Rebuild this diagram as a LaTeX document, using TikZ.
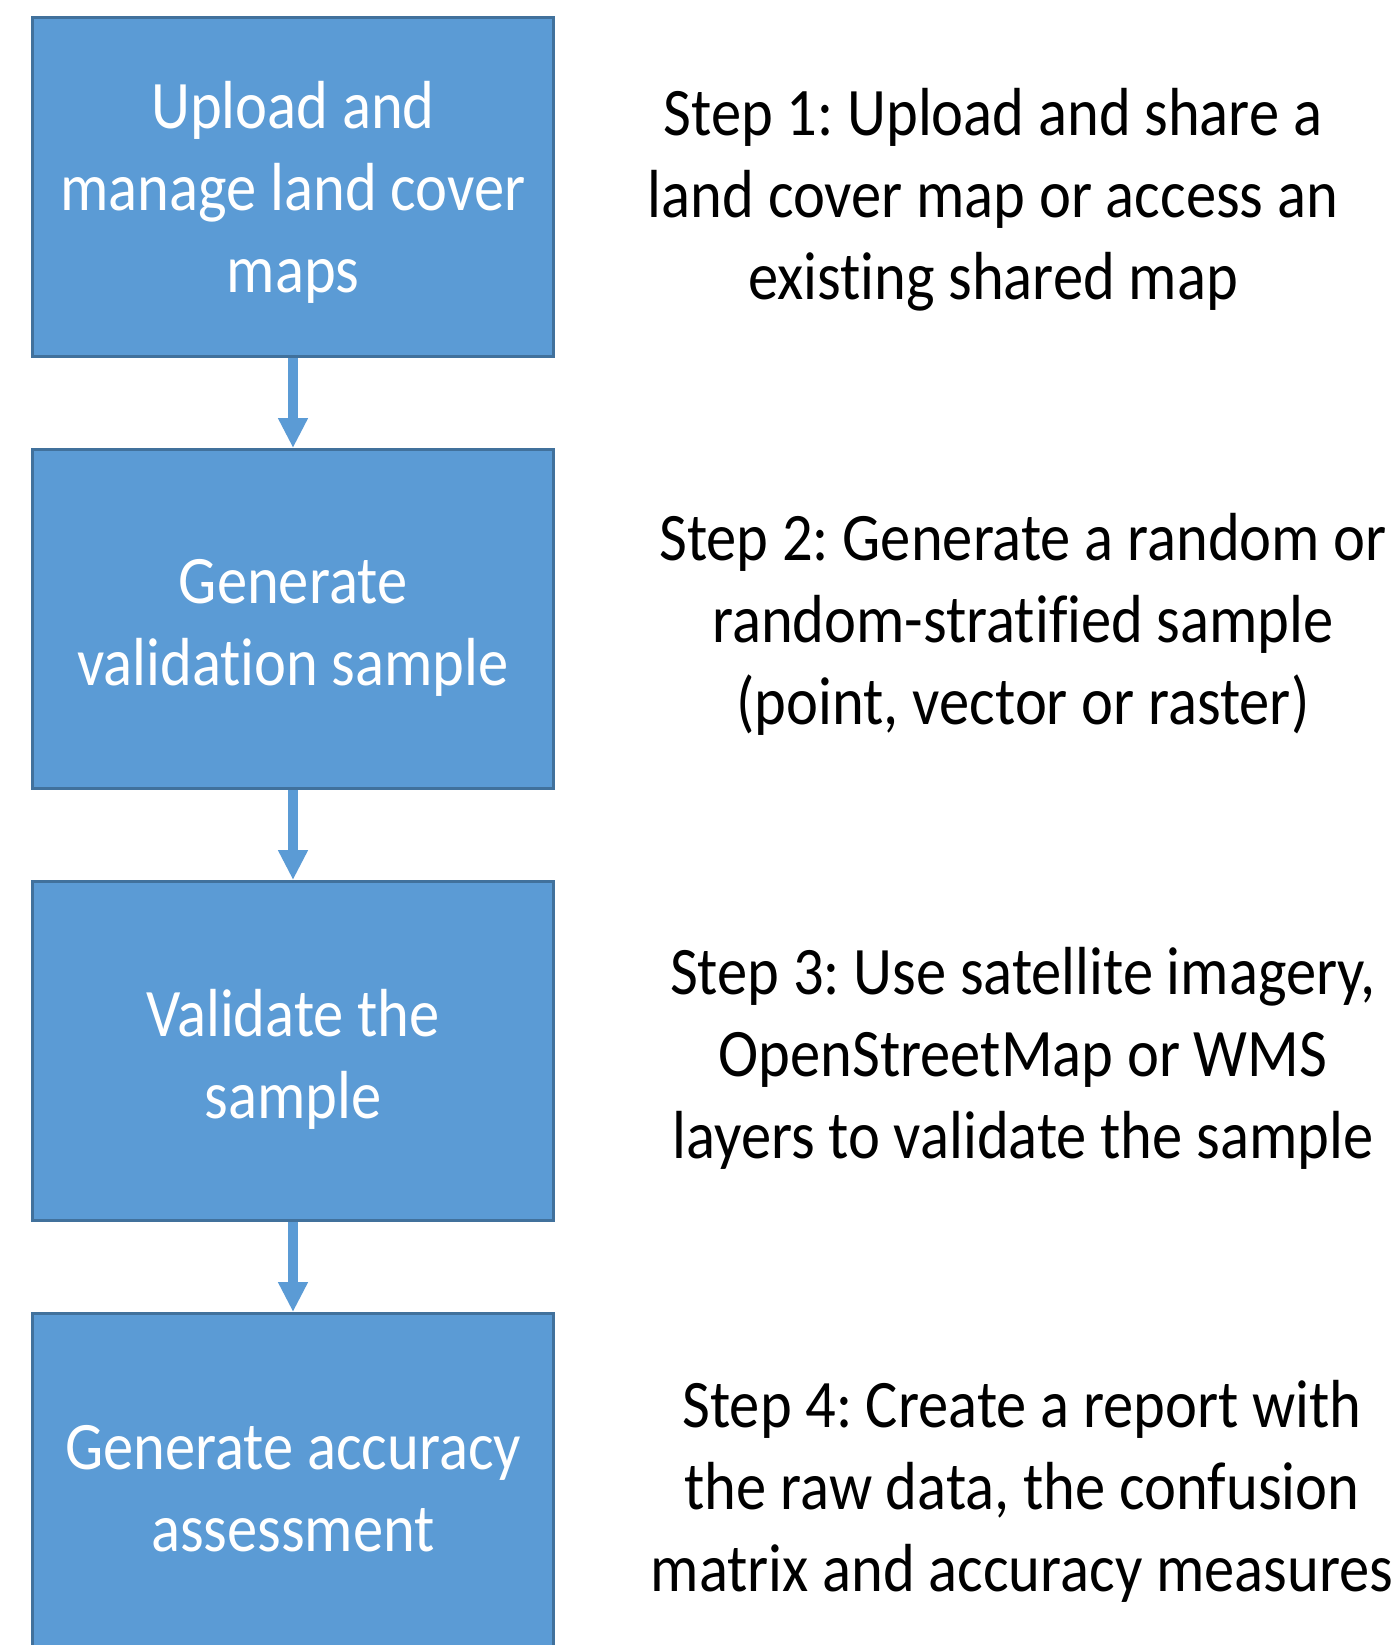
\documentclass[tikz,border=0pt]{standalone}
\usepackage{fontspec}
\setmainfont{Carlito}[FakeStretch=0.89,Ligatures=CommonOff]
\usetikzlibrary{arrows.meta}
\definecolor{boxfill}{HTML}{5B9BD5}
\definecolor{boxline}{HTML}{41719C}
\frenchspacing
\begin{document}
\begin{tikzpicture}[x=0.5pt,y=-0.5pt,
  flowbox/.style={draw=boxline, fill=boxfill, line width=1.5pt,
    minimum width=260.5pt, minimum height=169.5pt, inner sep=0pt},
  boxtext/.style={text=white, align=center,
    font=\fontsize{34}{41}\selectfont\frenchspacing, inner sep=0pt},
  steptext/.style={text=black, align=center,
    font=\fontsize{34}{41}\selectfont\frenchspacing, inner sep=0pt},
  flowarrow/.style={draw=boxfill, line width=5pt,
    -{Triangle[length=15pt,width=14pt]}}]
\useasboundingbox (0,0) rectangle (1400,1645);
\clip (0,0) rectangle (1400,1645);
\fill[white] (0,0) rectangle (1400,1645);
\node[flowbox] (b1) at (293,187) {};
\node[flowbox] (b2) at (293,619) {};
\node[flowbox] (b3) at (293,1051) {};
\node[flowbox] (b4) at (293,1483) {};
\node[boxtext] (t1) at (293,193.6) {\strut Upload and\\\strut manage land cover\\\strut maps};
\node[boxtext] (t2) at (293,627.6) {\strut Generate\\\strut validation sample};
\node[boxtext] (t3) at (293,1061) {\strut Validate the\\\strut sample};
\node[boxtext] (t4) at (293,1493.6) {\strut Generate accuracy\\\strut assessment};
\node[steptext] (s1) at (993,200.6) {\strut Step 1: Upload and share a\\\strut land cover map or access an\\\strut existing shared map};
\node[steptext] (s2) at (1023,625.6) {\strut Step 2: Generate a random or\\\strut random-stratified sample\\\strut (point, vector or raster)};
\node[steptext] (s3) at (1023,1059.6) {\strut Step 3: Use satellite imagery,\\\strut OpenStreetMap or WMS\\\strut layers to validate the sample};
\node[steptext] (s4) at (1022,1492.6) {\strut Step 4: Create a report with\\\strut the raw data, the confusion\\\strut matrix and accuracy measures};
\draw[flowarrow] (b1.south) -- (b2.north);
\draw[flowarrow] (b2.south) -- (b3.north);
\draw[flowarrow] (b3.south) -- (b4.north);
\end{tikzpicture}
\end{document}
